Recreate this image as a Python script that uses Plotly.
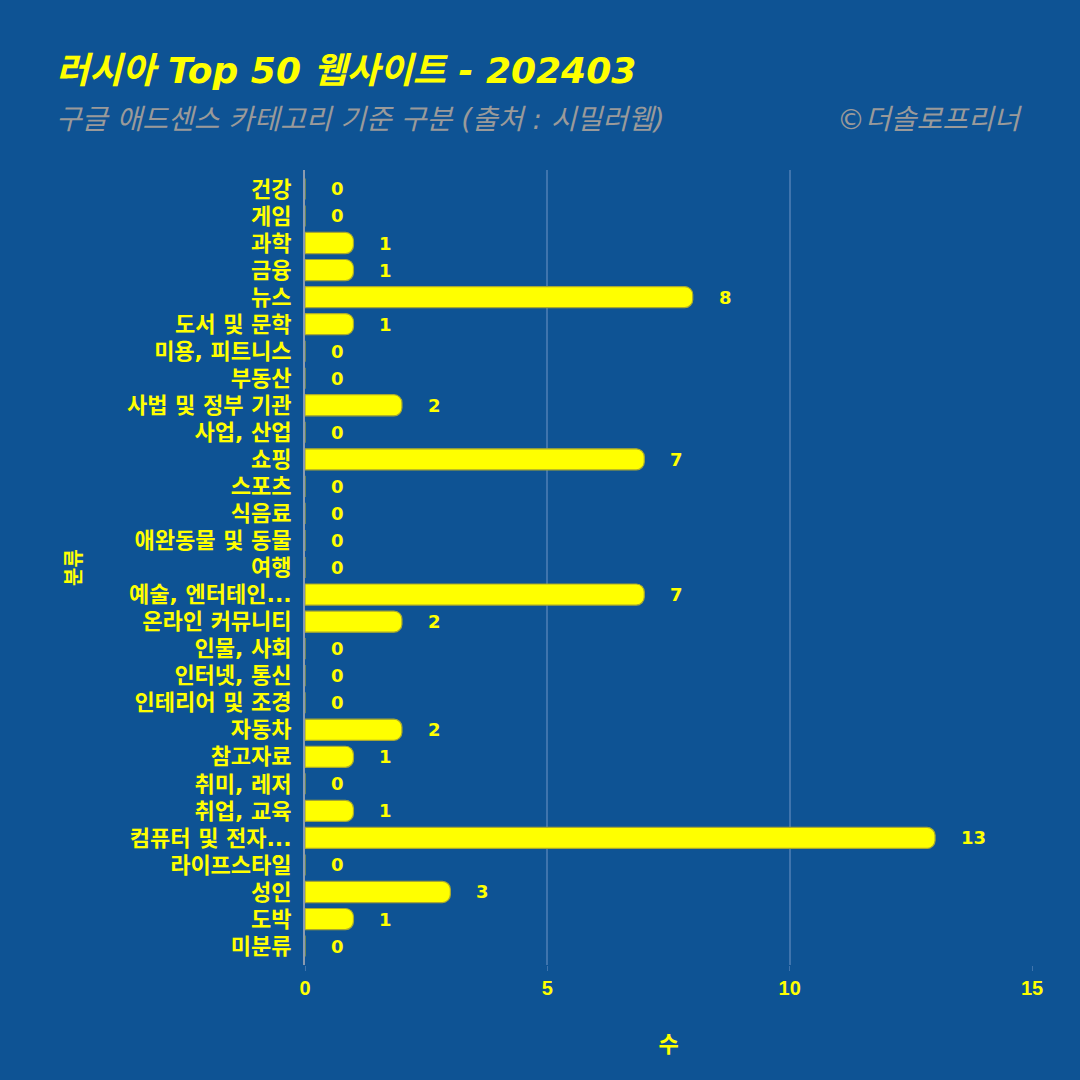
import plotly.graph_objects as go

categories = ["건강", "게임", "과학", "금융", "뉴스", "도서 및 문학", "미용, 피트니스", "부동산",
              "사법 및 정부 기관", "사업, 산업", "쇼핑", "스포츠", "식음료", "애완동물 및 동물", "여행",
              "예술, 엔터테인...", "온라인 커뮤니티", "인물, 사회", "인터넷, 통신", "인테리어 및 조경",
              "자동차", "참고자료", "취미, 레저", "취업, 교육", "컴퓨터 및 전자...", "라이프스타일",
              "성인", "도박", "미분류"]
values = [0, 0, 1, 1, 8, 1, 0, 0, 2, 0, 7, 0, 0, 0, 0, 7, 2, 0, 0, 0, 2, 1, 0, 1, 13, 0, 3, 1, 0]
x_ticks = [0, 5, 10, 15]

BG = "#0e5394"
YEL = "#ffff00"
FONT = "DejaVu Sans, Noto Sans CJK KR, sans-serif"
NARROW = "Liberation Sans Narrow, Liberation Sans, sans-serif"

fig = go.Figure()
fig.add_trace(go.Bar(
    x=values, y=categories, orientation="h",
    marker=dict(color=YEL, line=dict(color="#a8a830", width=1.2), cornerradius=8),
    hoverinfo="x+y",
))

for c, v in zip(categories, values):
    fig.add_annotation(x=v, y=c, text=str(v), showarrow=False, xanchor="left",
                       xshift=24, font=dict(color=YEL, size=18, family=FONT, weight="bold"))

fig.add_annotation(xref="paper", yref="paper", x=-0.345, y=1.125, xanchor="left", yanchor="middle",
                   text="<b><i>러시아 Top 50 웹사이트 - 202403</i></b>", showarrow=False,
                   font=dict(color=YEL, size=36, family=FONT))
fig.add_annotation(xref="paper", yref="paper", x=-0.345, y=1.064, xanchor="left", yanchor="middle",
                   text="<i>구글 애드센스 카테고리 기준 구분 (출처 : 시밀러웹)</i>", showarrow=False,
                   font=dict(color="#9a9a9a", size=28, family=FONT))
fig.add_annotation(xref="paper", yref="paper", x=0.99, y=1.064, xanchor="right", yanchor="middle",
                   text="<i>©더솔로프리너</i>", showarrow=False,
                   font=dict(color="#9a9a9a", size=28, family=FONT))

fig.update_layout(
    width=1080, height=1080,
    paper_bgcolor=BG, plot_bgcolor=BG,
    margin=dict(l=305, r=48, t=170, b=115),
    bargap=0.22,
    showlegend=False,
    font=dict(family=FONT, color=YEL),
    xaxis=dict(range=[0, 15], tickvals=x_ticks, showgrid=True, gridcolor="#3f74ad", gridwidth=1.5,
               zeroline=False, showline=False, ticks="outside", ticklen=5, tickcolor="#3f74ad",
               tickfont=dict(size=20, color=YEL, family=NARROW, weight="bold"),
               title=dict(text="<b>수</b>", font=dict(size=22, color=YEL), standoff=38)),
    yaxis=dict(range=[28.7, -0.7], showgrid=False, showline=True, linecolor="#8a9ab0", linewidth=2,
               ticks="", ticklabelstandoff=7, tickmode="array", tickvals=categories, ticktext=categories,
               tickfont=dict(size=22, color=YEL, weight="bold"),
               title=dict(text="<b>분류</b>", font=dict(size=20, color=YEL), standoff=40)),
)

fig.write_html("out.html")
